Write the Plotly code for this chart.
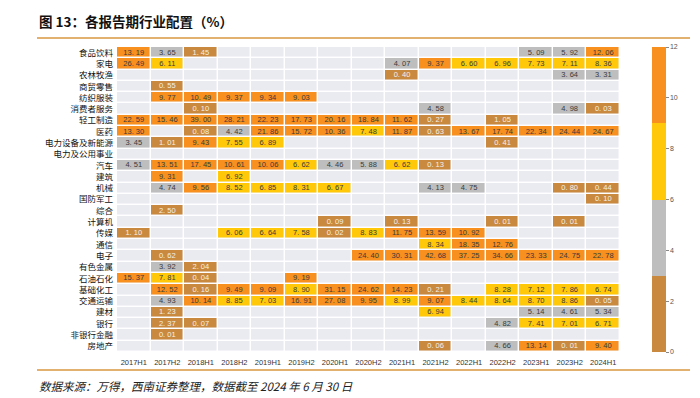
import math
import plotly.graph_objects as go

periods = ["2017H1", "2017H2", "2018H1", "2018H2", "2019H1", "2019H2", "2020H1", "2020H2",
           "2021H1", "2021H2", "2022H1", "2022H2", "2023H1", "2023H2", "2024H1"]

industries = ["食品饮料", "家电", "农林牧渔", "商贸零售", "纺织服装", "消费者服务", "轻工制造", "医药",
              "电力设备及新能源", "电力及公用事业", "汽车", "建筑", "机械", "国防军工", "综合", "计算机",
              "传媒", "通信", "电子", "有色金属", "石油石化", "基础化工", "交通运输", "建材", "银行",
              "非银行金融", "房地产"]

N = None
food      = [13.19, 3.65, 1.45, N, N, N, N, N, N, N, N, N, 5.09, 5.92, 12.06]
appliance = [26.49, 6.11, N, N, N, N, N, N, 4.07, 9.37, 6.60, 6.96, 7.73, 7.11, 8.36]
agri      = [N, N, N, N, N, N, N, N, 0.40, N, N, N, N, 3.64, 3.31]
retail    = [N, 0.55, N, N, N, N, N, N, N, N, N, N, N, N, N]
textile   = [N, 9.77, 10.49, 9.37, 9.34, 9.03, N, N, N, N, N, N, N, N, N]
consumer  = [N, N, 0.10, N, N, N, N, N, N, 4.58, N, N, N, 4.98, 0.03]
light     = [22.59, 15.46, 39.00, 28.21, 22.23, 17.73, 20.16, 18.84, 11.62, 0.27, N, 1.05, N, N, N]
pharma    = [13.30, N, 0.08, 4.42, 21.86, 15.72, 10.36, 7.48, 11.87, 0.63, 13.67, 17.74, 22.34, 24.44, 24.67]
newenergy = [3.45, 1.01, 9.43, 7.55, 6.89, N, N, N, N, N, N, 0.41, N, N, N]
utility   = [N] * 15
auto      = [4.51, 13.51, 17.45, 10.61, 10.06, 6.62, 4.46, 5.88, 6.62, 0.13, N, N, N, N, N]
construct = [N, 9.31, N, 6.92, N, N, N, N, N, N, N, N, N, N, N]
machinery = [N, 4.74, 9.56, 8.52, 6.85, 8.31, 6.67, N, N, 4.13, 4.75, N, N, 0.80, 0.44]
defense   = [N, N, N, N, N, N, N, N, N, N, N, N, N, N, 0.10]
composite = [N, 2.50, N, N, N, N, N, N, N, N, N, N, N, N, N]
computer  = [N, N, N, N, N, N, 0.09, N, 0.13, N, N, 0.01, N, 0.01, N]
media     = [1.10, N, N, 6.06, 6.64, 7.58, 0.02, 8.83, 11.75, 13.59, 10.92, N, N, N, N]
telecom   = [N, N, N, N, N, N, N, N, N, 8.34, 18.35, 12.76, N, N, N]
electron  = [N, 0.62, N, N, N, N, N, 24.40, 30.31, 42.68, 37.25, 34.66, 23.33, 24.75, 22.78]
metals    = [N, 3.92, 2.04, N, N, N, N, N, N, N, N, N, N, N, N]
petro     = [15.37, 7.81, 0.04, N, N, 9.19, N, N, N, N, N, N, N, N, N]
chemical  = [N, 12.52, 0.16, 9.49, 9.09, 8.90, 31.15, 24.62, 14.23, 0.21, N, 8.28, 7.12, 7.86, 6.74]
transport = [N, 4.93, 10.14, 8.85, 7.03, 16.91, 27.08, 9.95, 8.99, 9.07, 8.44, 8.64, 8.70, 8.86, 0.05]
buildmat  = [N, 1.23, N, N, N, N, N, N, N, 6.94, N, N, 5.14, 4.61, 5.34]
bank      = [N, 2.37, 0.07, N, N, N, N, N, N, N, N, 4.82, 7.41, 7.01, 6.71]
nonbank   = [N, 0.01, N, N, N, N, N, N, N, N, N, N, N, N, N]
realestate = [N, N, N, N, N, N, N, N, N, 0.06, N, 4.66, 13.14, 0.01, 9.40]

rows = [food, appliance, agri, retail, textile, consumer, light, pharma, newenergy, utility,
        auto, construct, machinery, defense, composite, computer, media, telecom, electron,
        metals, petro, chemical, transport, buildmat, bank, nonbank, realestate]

colorbar_ticks = [0, 2, 4, 6, 8, 10, 12]

BROWN = "#C9893F"
GRAY = "#BEBEBE"
YELLOW = "#FFC90A"
ORANGE = "#F7901E"
EMPTY = "#EAEAF1"

# page body has an 8px margin: lay the figure out in reference pixels minus 8
OFF = 8
W, H = 700 - OFF, 398 - OFF
PL, PR, PT, PB = 117, 620, 47, 352   # plot area in reference pixels
L, T = PL - OFF, PT - OFF
R, B = W - (PR - OFF), H - (PB - OFF)
PW = PR - PL
PH = PB - PT

def px_x(x):
    return (x - PL) / PW

def px_y(y):
    return 1 - (y - PT) / PH

z = [[(v if v is not None else math.nan) for v in r] for r in rows]
bg = [[1 for _ in periods] for _ in industries]

fig = go.Figure()
fig.add_trace(go.Heatmap(
    x=periods, y=industries, z=bg, colorscale=[[0, EMPTY], [1, EMPTY]],
    showscale=False, xgap=1.5, ygap=1.5, hoverinfo="skip"))
fig.add_trace(go.Heatmap(
    x=periods, y=industries, z=z, zmin=0, zmax=12,
    colorscale=[[0, BROWN], [0.25, BROWN], [0.25, GRAY], [0.5, GRAY],
                [0.5, YELLOW], [0.75, YELLOW], [0.75, ORANGE], [1, ORANGE]],
    xgap=1.5, ygap=1.5,
    colorbar=dict(x=px_x(652), xanchor="left", xpad=0, y=0.5, yanchor="middle", len=1,
                  lenmode="fraction", ypad=0, thickness=14, outlinewidth=0,
                  tickvals=colorbar_ticks, ticks="outside", ticklen=3, tickcolor="#888",
                  tickfont=dict(size=7, color="#555", family="Liberation Sans"))))

tx, ty, tt, tc = [], [], [], []
for name, r in zip(industries, rows):
    for p, v in zip(periods, r):
        if v is None:
            continue
        tx.append(p)
        ty.append(name)
        tt.append(f"{v:.2f}".replace(".", ". "))
        tc.append("#F4F0EA" if v < 3 else "#3A3A3A")
fig.add_trace(go.Scatter(x=tx, y=ty, text=tt, mode="text",
                         textfont=dict(size=7.5, color=tc, family="Liberation Sans"),
                         hoverinfo="skip", showlegend=False, cliponaxis=False))

fig.update_layout(
    width=W, height=H,
    margin=dict(l=L, r=R, t=T, b=B, autoexpand=False),
    paper_bgcolor="white", plot_bgcolor="white",
    showlegend=False,
    xaxis=dict(showgrid=False, zeroline=False, ticks="", automargin=False,
               range=[-0.5, len(periods) - 0.5], categoryorder="array", categoryarray=periods,
               tickfont=dict(size=7.5, color="#333", family="Liberation Sans"), tickangle=0,
               ticklabelstandoff=4),
    yaxis=dict(showgrid=False, zeroline=False, ticks="", automargin=False,
               range=[len(industries) - 0.5, -0.5], categoryorder="array", categoryarray=industries,
               tickfont=dict(size=8.5, color="#111", family="Noto Sans CJK SC"), ticklabelstandoff=3),
)

fig.add_annotation(xref="paper", yref="paper", x=px_x(37), y=px_y(21),
                   xanchor="left", yanchor="middle", showarrow=False,
                   text="<b>图 13：各报告期行业配置（%）</b>",
                   font=dict(size=13.5, color="#111", family="Noto Sans CJK SC"))
fig.add_annotation(xref="paper", yref="paper", x=px_x(37), y=px_y(386),
                   xanchor="left", yanchor="middle", showarrow=False,
                   text="<i>数据来源：万得，西南证券整理，数据截至 2024 年 6 月 30 日</i>",
                   font=dict(size=11.5, color="#222", family="Noto Sans CJK SC"))
fig.add_shape(type="line", xref="paper", yref="paper",
              x0=px_x(37), x1=px_x(690), y0=px_y(38), y1=px_y(38),
              line=dict(color="#D9963F", width=1.5))
fig.add_shape(type="line", xref="paper", yref="paper",
              x0=px_x(37), x1=px_x(690), y0=px_y(370), y1=px_y(370),
              line=dict(color="#D9963F", width=1.5))

fig.write_html("out.html")
